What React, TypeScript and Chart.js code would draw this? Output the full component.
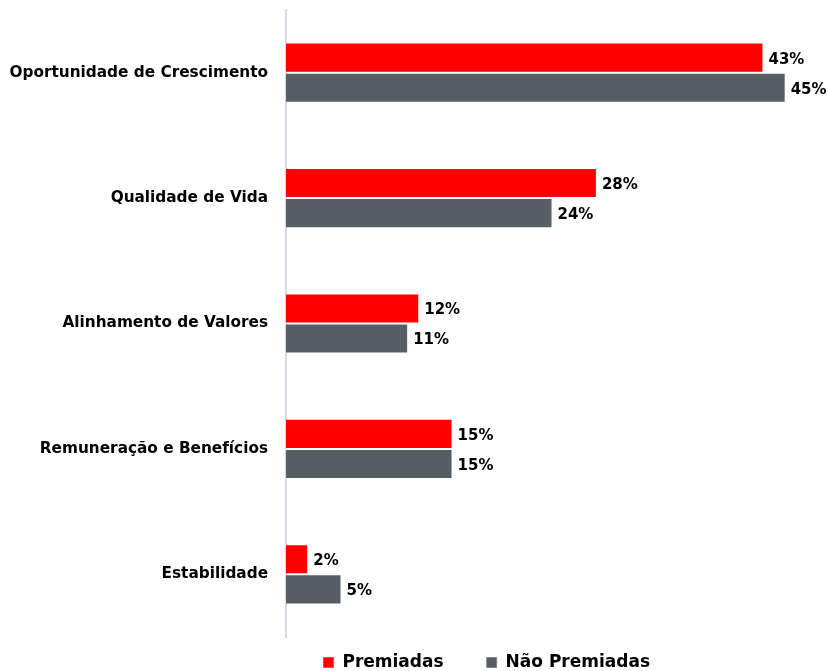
import React, { useEffect, useRef } from "react";
import { Chart, registerables } from "chart.js";

Chart.register(...registerables);

const categories = [
  "Oportunidade de Crescimento",
  "Qualidade de Vida",
  "Alinhamento de Valores",
  "Remuneração e Benefícios",
  "Estabilidade",
];
const premiadas = [43, 28, 12, 15, 2];
const naoPremiadas = [45, 24, 11, 15, 5];
const seriesNames = ["Premiadas", "Não Premiadas"];

const FONT = "'DejaVu Sans', sans-serif";

const valueLabels = {
  id: "valueLabels",
  afterDatasetsDraw(chart: any) {
    const ctx = chart.ctx;
    ctx.save();
    ctx.font = `bold 15px ${FONT}`;
    ctx.fillStyle = "#000000";
    ctx.textAlign = "left";
    ctx.textBaseline = "middle";
    chart.data.datasets.forEach((ds: any, i: number) => {
      const meta = chart.getDatasetMeta(i);
      meta.data.forEach((bar: any, j: number) => {
        ctx.fillText(`${ds.data[j]}%`, bar.x + 5, bar.y + 2);
      });
    });
    ctx.restore();
  },
};

const legendShift = {
  id: "legendShift",
  afterLayout(chart: any) {
    const lg = chart.legend;
    if (lg) {
      lg.left += 77;
      lg.right += 77;
    }
  },
};

export default function App() {
  const ref = useRef<HTMLCanvasElement>(null);
  useEffect(() => {
    document.body.style.margin = "0";
    const chart = new Chart(ref.current!, {
      type: "bar",
      data: {
        labels: categories,
        datasets: [
          {
            label: seriesNames[0],
            data: premiadas,
            backgroundColor: "#ff0000",
            borderColor: "rgba(255,255,255,0.5)",
            borderWidth: 1,
            categoryPercentage: 0.48,
            barPercentage: 1,
          },
          {
            label: seriesNames[1],
            data: naoPremiadas,
            backgroundColor: "#575e66",
            borderColor: "rgba(255,255,255,0.5)",
            borderWidth: 1,
            categoryPercentage: 0.48,
            barPercentage: 1,
          },
        ],
      },
      plugins: [valueLabels, legendShift],
      options: {
        indexAxis: "y",
        animation: false,
        responsive: false,
        maintainAspectRatio: false,
        layout: { padding: { top: 10, right: 9, left: 0, bottom: -10 } },
        scales: {
          x: { display: false, min: 0, max: 48 },
          y: {
            afterFit: (s: any) => {
              s.width = 286;
              s.paddingTop = 0;
              s.paddingBottom = 0;
            },
            grid: { display: false, drawTicks: false },
            border: { display: true, color: "#d9d9e6", width: 2 },
            ticks: {
              padding: 18,
              color: "#000000",
              font: { family: FONT, size: 15.3, weight: "bold" },
            },
          },
        },
        plugins: {
          tooltip: { enabled: false },
          legend: {
            position: "bottom",
            labels: {
              boxWidth: 11,
              boxHeight: 11,
              padding: 17,
              color: "#000000",
              font: { family: FONT, size: 17, weight: "bold" },
              generateLabels: (c: any) => {
                const items = Chart.defaults.plugins.legend.labels.generateLabels(c);
                items[0].text = items[0].text + "\u2003\u2002";
                return items;
              },
            },
          },
        },
      },
    });
    return () => chart.destroy();
  }, []);
  return (
    <div style={{ position: "absolute", left: 0, top: 0, width: 828, height: 671 }}>
      <canvas ref={ref} width={828} height={671} />
    </div>
  );
}
